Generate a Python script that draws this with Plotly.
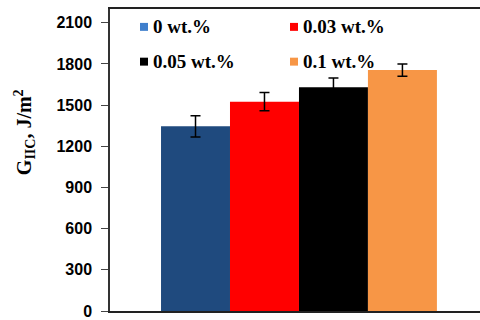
import plotly.graph_objects as go

# Mode II fracture toughness for each filler loading
loadings = ["0 wt.%", "0.03 wt.%", "0.05 wt.%", "0.1 wt.%"]
g_iic = [1345, 1525, 1630, 1755]
g_iic_err = [77, 66, 68, 45]
bar_colors = ["#1F4A7E", "#FF0000", "#000000", "#F79646"]
key_colors = ["#3F7FCC", "#FF0000", "#000000", "#F79646"]
y_ticks = [0, 300, 600, 900, 1200, 1500, 1800, 2100]

W, H = 480, 320
M_L, M_R, M_T, M_B = 110, 0, 9, 7
PLOT_W = W - M_L - M_R
PLOT_H = H - M_T - M_B


def px_to_paper(px, py):
    return (px - M_L) / PLOT_W, (H - M_B - py) / PLOT_H


fig = go.Figure()
for name, val, err, col in zip(loadings, g_iic, g_iic_err, bar_colors):
    fig.add_trace(go.Bar(
        x=[0], y=[val], name=name,
        marker=dict(color=col, line=dict(width=0)),
        error_y=dict(type="data", array=[err], color="#000000",
                     thickness=1.5, width=5),
        showlegend=False,
    ))

# key drawn as a 2x2 grid of small squares with bold serif labels
shapes, annotations = [], []
key_x0, key_y0, col_step, row_step, half = 144, 27, 150, 35, 4
for i, (name, col) in enumerate(zip(loadings, key_colors)):
    cx = key_x0 + (i % 2) * col_step
    cy = key_y0 + (i // 2) * row_step
    x0, y0 = px_to_paper(cx - half, cy + half)
    x1, y1 = px_to_paper(cx + half, cy - half)
    shapes.append(dict(type="rect", xref="paper", yref="paper",
                       x0=x0, y0=y0, x1=x1, y1=y1,
                       fillcolor=col, line=dict(width=0)))
    tx, ty = px_to_paper(cx + 7, cy)
    annotations.append(dict(
        text=f"<b>{name}</b>", xref="paper", yref="paper", x=tx, y=ty,
        xanchor="left", yanchor="middle", showarrow=False,
        font=dict(family="Liberation Serif", size=19, color="#000000"),
    ))

tx, ty = px_to_paper(25, 133)
annotations.append(dict(
    text="<b>G<sub>IIC</sub>, J/m<sup>2</sup></b>",
    xref="paper", yref="paper", x=tx, y=ty,
    xanchor="center", yanchor="middle", textangle=-90,
    showarrow=False,
    font=dict(family="Liberation Serif", size=20, color="#000000"),
))

fig.update_layout(
    width=W, height=H,
    margin=dict(l=M_L, r=M_R, t=M_T, b=M_B),
    paper_bgcolor="white", plot_bgcolor="white",
    barmode="group", bargap=0.27, bargroupgap=0,
    showlegend=False,
    xaxis=dict(
        range=[-0.5, 0.479], showticklabels=False, ticks="",
        showgrid=False, zeroline=False,
        showline=True, linecolor="#222222", linewidth=2, mirror=True,
    ),
    yaxis=dict(
        range=[0, 2200], tickvals=y_ticks,
        ticks="outside", ticklen=7, tickcolor="#444444", tickwidth=1,
        ticklabelstandoff=6, ticklabeloverflow="allow",
        tickfont=dict(family="Liberation Sans", size=16, color="#000000",
                      weight="bold"),
        showgrid=False, zeroline=False,
        showline=True, linecolor="#333333", linewidth=1.5,
    ),
    shapes=shapes,
    annotations=annotations,
)

fig.write_html("out.html")
